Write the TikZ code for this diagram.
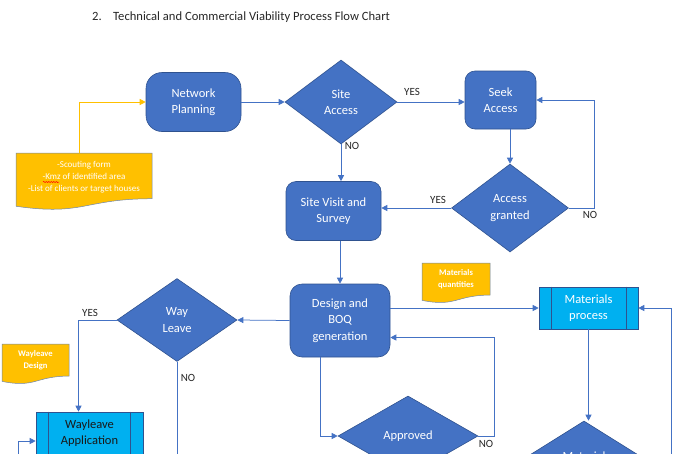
\documentclass[tikz,border=0pt]{standalone}
\usepackage{fontspec}
\setmainfont{Carlito}
\usetikzlibrary{positioning}
\usetikzlibrary{shapes.geometric}
\usetikzlibrary{arrows.meta}
\usetikzlibrary{decorations.pathmorphing}

\definecolor{boxblue}{HTML}{4472C4}
\definecolor{edgeblue}{HTML}{2F528F}
\definecolor{proccyan}{HTML}{00B0F0}
\definecolor{notegold}{HTML}{FFC000}
\definecolor{linkblue}{HTML}{4472C4}

\tikzset{
  shapetext/.style={text=white, font=\fontsize{12.5}{16.5}\selectfont, align=center},
  roundbox/.style={shapetext, rectangle, draw=edgeblue, fill=boxblue, line width=0.6pt, rounded corners=10pt, inner sep=0pt},
  decision/.style={shapetext, diamond, draw=edgeblue, fill=boxblue, line width=0.6pt, inner sep=0pt},
  procbox/.style={shapetext, rectangle, draw=edgeblue, fill=proccyan, line width=0.6pt, inner sep=0pt},
  flow/.style={draw=linkblue, line width=0.75pt, -{Triangle[length=6pt,width=6pt]}},
  answer/.style={font=\fontsize{11}{13}\selectfont, text=black!85},
  notetext/.style={text=white, font=\fontsize{9}{12}\selectfont, align=center, inner sep=0pt},
}

% document shape: name, left, top, width, height
\newcommand{\notepaper}[5]{%
  \draw[draw=edgeblue!70, fill=notegold, line width=0.5pt] (#2,#3) -- (#2+#4,#3) -- (#2+#4,#3+0.802*#5)
      .. controls (#2+0.5*#4,#3+0.802*#5) and (#2+0.5*#4,#3+1.107*#5) .. (#2,#3+0.934*#5) -- cycle;
  \coordinate (#1-top) at (#2+0.5*#4,#3);
}

\begin{document}
\begin{tikzpicture}[x=1pt, y=-1pt]
    \useasboundingbox (0,0) rectangle (680,453);
    \clip (0,0) rectangle (680,453);

    % title
    \node[anchor=base west, inner sep=0pt, font=\fontsize{12.6}{15}\selectfont, text=black!85] (num) at (92,20) {2.};
    \node[anchor=base west, inner sep=0pt, font=\fontsize{12.6}{15}\selectfont, text=black!85] (title) at (113,20) {Technical and Commercial Viability Process Flow Chart};

    % notes
    \notepaper{scout}{16}{153}{136}{57}
    \node[notetext] (scout) at (84,177) {-Scouting form\\-Kmz of identified area\\-List of clients or target houses};
    \draw[red, line width=0.5pt, decorate, decoration={snake, amplitude=0.6pt, segment length=2.5pt}] (43,182) -- (59,182);
    \notepaper{matqty}{422}{263}{68}{40}
    \node[notetext, font=\bfseries\fontsize{8.6}{12}\selectfont] (matqty) at (456,279) {Materials\\quantities};
    \notepaper{wldes}{2}{344}{67}{40}
    \node[notetext, font=\bfseries\fontsize{8.6}{12}\selectfont] (wldes) at (35.5,360) {Wayleave\\Design};

    % process shapes
    \node[roundbox, rounded corners=16pt, minimum width=95pt, minimum height=59pt] (netplan) at (193.5,102) {Network\\Planning};
    \node[decision, minimum width=112pt, minimum height=84pt] (siteacc) at (341,102) {Site\\Access};
    \node[roundbox, minimum width=71pt, minimum height=58pt] (seek) at (500.5,100) {Seek\\Access};
    \node[decision, minimum width=117pt, minimum height=88pt] (accgr) at (510,208) {Access\\granted};
    \node[roundbox, minimum width=95pt, minimum height=59pt] (sitevisit) at (333.5,211) {Site Visit and\\Survey};
    \node[roundbox, rounded corners=12pt, minimum width=100pt, minimum height=73pt] (design) at (340,320.5) {Design and\\BOQ\\generation};
    \node[procbox, minimum width=99pt, minimum height=42pt] (matproc) at (588.5,308) {Materials\\process};
    \node[decision, minimum width=120pt, minimum height=83pt] (wayleave) at (177,320) {Way\\Leave};
    \node[procbox, text=black!90, minimum width=107pt, minimum height=42pt] (wapp) at (89.5,433) {Wayleave\\Application};
    \node[decision, minimum width=140pt, minimum height=80pt] (approved) at (408,436) {Approved};
    \node[decision, minimum width=144pt, minimum height=90pt] (matchk) at (584,466) {};
    \node[shapetext] (matchktext) at (584,456) {Material};

    \draw[edgeblue, line width=0.6pt] ([xshift=13pt]matproc.north west) -- ([xshift=13pt]matproc.south west);
    \draw[edgeblue, line width=0.6pt] ([xshift=-12pt]matproc.north east) -- ([xshift=-12pt]matproc.south east);
    \draw[edgeblue, line width=0.6pt] ([xshift=13pt]wapp.north west) -- ([xshift=13pt]wapp.south west);
    \draw[edgeblue, line width=0.6pt] ([xshift=-13pt]wapp.north east) -- ([xshift=-13pt]wapp.south east);

    % free ends below the page
    \coordinate (wlno) at (177,470);
    \coordinate (wlin) at (18,470);
    \coordinate (matin) at (671,470);

    % connectors
    \draw[flow, draw=notegold] ([xshift=-5pt]scout-top) |- (netplan.west);
    \draw[flow] (netplan.east) -- (siteacc.west);
    \draw[flow] (siteacc.east) -- (siteacc.east -| seek.west);
    \draw[flow] (siteacc.south) -- (siteacc.south |- sitevisit.north);
    \draw[flow] (accgr.north |- seek.south) -- (accgr.north);
    \draw[flow] (accgr.east) -- ++(26,0) |- (seek.east);
    \draw[flow] (accgr.west) -- (accgr.west -| sitevisit.east);
    \draw[flow] (design.north |- sitevisit.south) -- (design.north);
    \draw[flow] (design.east |- matproc.west) -- (matproc.west);
    \draw[flow] (matin) |- (matproc.east);
    \draw[flow] (matproc.south) -- (matproc.south |- matchk.north);
    \draw[flow] (design.west) -- (wayleave.east);
    \draw[flow] (wayleave.west) -| ([xshift=-11pt]wapp.north);
    \draw[linkblue, line width=0.75pt] (wayleave.south) -- (wlno);
    \draw[flow] (wlin) |- ([yshift=-8pt]wapp.west);
    \draw[flow] ([xshift=-20pt]design.south) |- (approved.west);
    \draw[flow] (approved.east) -- ++(16,0) |- ([yshift=-17pt]design.east);

    % answers
    \node[answer] (yes1) at (412,92) {YES};
    \node[answer] (no1) at (352,146) {NO};
    \node[answer] (yes2) at (438,200) {YES};
    \node[answer] (no2) at (590,215) {NO};
    \node[answer] (yes3) at (90,313) {YES};
    \node[answer] (no3) at (188,378) {NO};
    \node[answer] (no4) at (486,444) {NO};
\end{tikzpicture}
\end{document}
